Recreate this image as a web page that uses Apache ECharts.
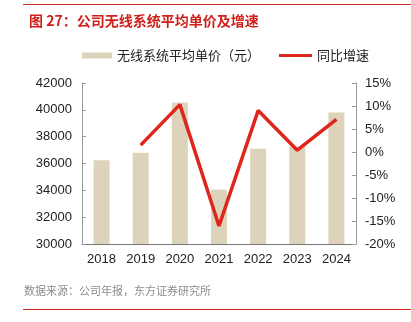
<!DOCTYPE html>
<html><head><meta charset="utf-8">
<script src="https://cdn.jsdelivr.net/npm/echarts@6/dist/echarts.min.js"></script>
<style>html,body{margin:0;padding:0;background:#fff}#c{width:411px;height:322px}</style>
</head><body><div id="c"></div>
<script>
const categories = ['2018','2019','2020','2021','2022','2023','2024'];
const avgPrice = [36250, 36800, 40550, 34050, 37100, 37250, 39800];
const growth = [null, 1.5, 10.3, -16.1, 9.0, 0.4, 7.1];
const leftTicks = [30000, 42000, 2000];
const rightTicks = [-20, 15, 5];

const FONT = '"Liberation Sans", Arial, "Noto Sans CJK SC", sans-serif';
const CJK = '"Noto Sans CJK SC", "Liberation Sans", sans-serif';
const chart = echarts.init(document.getElementById('c'), null, {renderer: 'canvas'});
chart.setOption({
  animation: false,
  backgroundColor: '#fff',
  title: {
    text: '图 27：公司无线系统平均单价及增速',
    left: 24, top: 9,
    textStyle: {color: '#d0201b', fontSize: 14, fontWeight: 'bold', fontFamily: CJK}
  },
  graphic: [
    {type: 'line', shape: {x1: 23, y1: 4.5, x2: 411, y2: 4.5}, style: {stroke: '#d42a26', lineWidth: 1}},
    {type: 'line', shape: {x1: 23, y1: 309.5, x2: 411, y2: 309.5}, style: {stroke: '#d42a26', lineWidth: 1}},
    {type: 'text', left: 24, top: 285, style: {text: '数据来源：公司年报，东方证券研究所', fill: '#8c8c8c', font: '11px ' + CJK}}
  ],
  legend: [
    {top: 44, left: 77, itemWidth: 30, itemHeight: 6,
     textStyle: {fontSize: 13, color: '#222', fontFamily: CJK},
     data: [{name: '无线系统平均单价（元）', icon: 'rect'}]},
    {top: 44, left: 274, itemWidth: 33, itemHeight: 3, itemGap: 4,
     textStyle: {fontSize: 13, color: '#222', fontFamily: CJK},
     data: [{name: '同比增速', icon: 'rect', itemStyle: {color: '#e0251c'}}]}
  ],
  grid: {left: 82, right: 55, top: 83, bottom: 78},
  xAxis: {
    type: 'category', data: categories,
    axisLine: {onZero: false, lineStyle: {color: '#777'}},
    axisTick: {inside: true, length: 4, lineStyle: {color: '#777'}},
    axisLabel: {color: '#222', fontSize: 13, fontFamily: FONT, margin: 9}
  },
  yAxis: [
    {type: 'value', min: leftTicks[0], max: leftTicks[1], interval: leftTicks[2],
     axisLine: {show: true, lineStyle: {color: '#999'}},
     axisTick: {show: true, inside: true, length: 4, lineStyle: {color: '#999'}},
     splitLine: {show: false},
     axisLabel: {color: '#222', fontSize: 13, fontFamily: FONT, margin: 10, formatter: v => String(v)}},
    {type: 'value', min: rightTicks[0], max: rightTicks[1], interval: rightTicks[2],
     axisLine: {show: true, lineStyle: {color: '#999'}},
     axisTick: {show: true, inside: true, length: 4, lineStyle: {color: '#999'}},
     splitLine: {show: false},
     axisLabel: {color: '#222', fontSize: 13, fontFamily: FONT, margin: 9, formatter: v => v + '%'}}
  ],
  series: [
    {name: '无线系统平均单价（元）', type: 'bar', data: avgPrice, barWidth: 16,
     itemStyle: {color: '#ddd3bb'}},
    {name: '同比增速', type: 'line', yAxisIndex: 1, data: growth, symbol: 'none',
     lineStyle: {color: '#e0251c', width: 3.5}, itemStyle: {color: '#e0251c'}}
  ]
});
</script></body></html>
